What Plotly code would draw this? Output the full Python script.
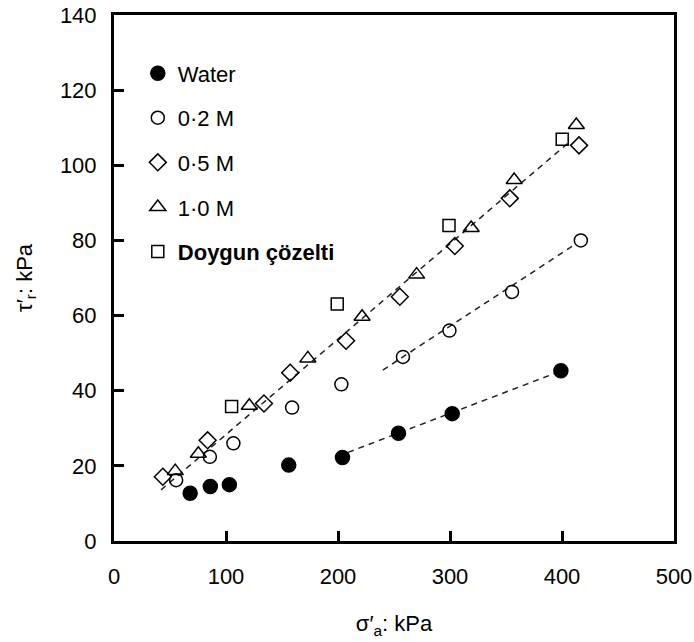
import plotly.graph_objects as go

# ---- data ----
water_x = [68, 86, 103, 156, 204, 254, 302, 399]
water_y = [12.7, 14.5, 15.0, 20.2, 22.2, 28.7, 33.9, 45.3]

m02_x = [55.5, 85.6, 106.6, 159, 203, 258, 299.5, 355.4, 416.8]
m02_y = [16.2, 22.4, 26.0, 35.5, 41.7, 49.0, 56.0, 66.3, 80.0]

m05_x = [43.6, 83.6, 133.9, 157.3, 207.2, 255.2, 304.3, 353.4, 415.2]
m05_y = [17.1, 26.8, 36.6, 44.8, 53.3, 65.0, 78.5, 91.2, 105.3]

m10_x = [54.7, 75.3, 120.8, 173.1, 221.5, 270.2, 318.9, 357.3, 412.8]
m10_y = [18.6, 23.2, 36.0, 48.6, 59.7, 70.9, 83.3, 96.1, 110.7]

sat_x = [105.0, 199.3, 299.1, 400.2]
sat_y = [35.8, 63.1, 84.0, 106.9]

# dashed trend lines (endpoints)
fit_upper_x = [42, 405]
fit_upper_y = [13.6, 105.8]
fit_02_x = [240, 412]
fit_02_y = [45.5, 79.0]
fit_water_x = [209, 396]
fit_water_y = [23.6, 44.9]

x_ticks = [0, 100, 200, 300, 400, 500]
y_ticks = [0, 20, 40, 60, 80, 100, 120, 140]

FONT = "Liberation Sans, Arial, sans-serif"
FS = 22

fig = go.Figure()

line_style = dict(color="#222", width=1.5, dash="6px,5px")
for fx, fy in [(fit_upper_x, fit_upper_y), (fit_02_x, fit_02_y), (fit_water_x, fit_water_y)]:
    fig.add_trace(go.Scatter(x=fx, y=fy, mode="lines", line=line_style,
                             showlegend=False, hoverinfo="skip"))

series = [
    ("Water", water_x, water_y, "circle", 14),
    ("0·2 M", m02_x, m02_y, "circle-open", 13),
    ("0·5 M", m05_x, m05_y, "diamond-open", 13),
    ("1·0 M", m10_x, m10_y, "triangle-up-open", 14),
    ("<b>Doygun çözelti</b>", sat_x, sat_y, "square-open", 12),
]
for i, (name, xs, ys, sym, sz) in enumerate(series):
    fig.add_trace(go.Scatter(
        x=xs, y=ys, mode="markers", name=name, legendgroup=f"g{i}",
        marker=dict(symbol=sym, size=sz, color="black",
                    line=dict(color="black", width=1.5)),
    ))

axis_common = dict(
    showgrid=False, zeroline=False, showline=True, linecolor="black",
    linewidth=3, mirror=True, ticks="inside", ticklen=10, tickwidth=3,
    tickcolor="black", tickfont=dict(family=FONT, size=FS, color="black"),
    automargin=False, ticklabeloverflow="allow",
)

fig.update_layout(
    width=694, height=642,
    margin=dict(l=114, r=20, t=15, b=101),
    paper_bgcolor="white", plot_bgcolor="white",
    font=dict(family=FONT, size=FS, color="black"),
    xaxis=dict(range=[0, 500], tickvals=x_ticks, ticklabelstandoff=14,
               title=dict(text="σ′<sub>a</sub>: kPa", standoff=28,
                          font=dict(family=FONT, size=FS)),
               **axis_common),
    yaxis=dict(range=[0, 140], tickvals=y_ticks, ticklabelstandoff=10,
               title=dict(text="τ′<sub>r</sub>: kPa", standoff=22,
                          font=dict(family=FONT, size=FS)),
               **axis_common),
    legend=dict(x=0.0425, y=0.929, xanchor="left", yanchor="top",
                bgcolor="rgba(0,0,0,0)", traceorder="grouped",
                tracegroupgap=13, font=dict(family=FONT, size=FS)),
    showlegend=True,
)

fig.write_html("out.html",
               config={"displayModeBar": False},
               post_script="document.body.style.margin='0';document.body.style.overflow='hidden';")
